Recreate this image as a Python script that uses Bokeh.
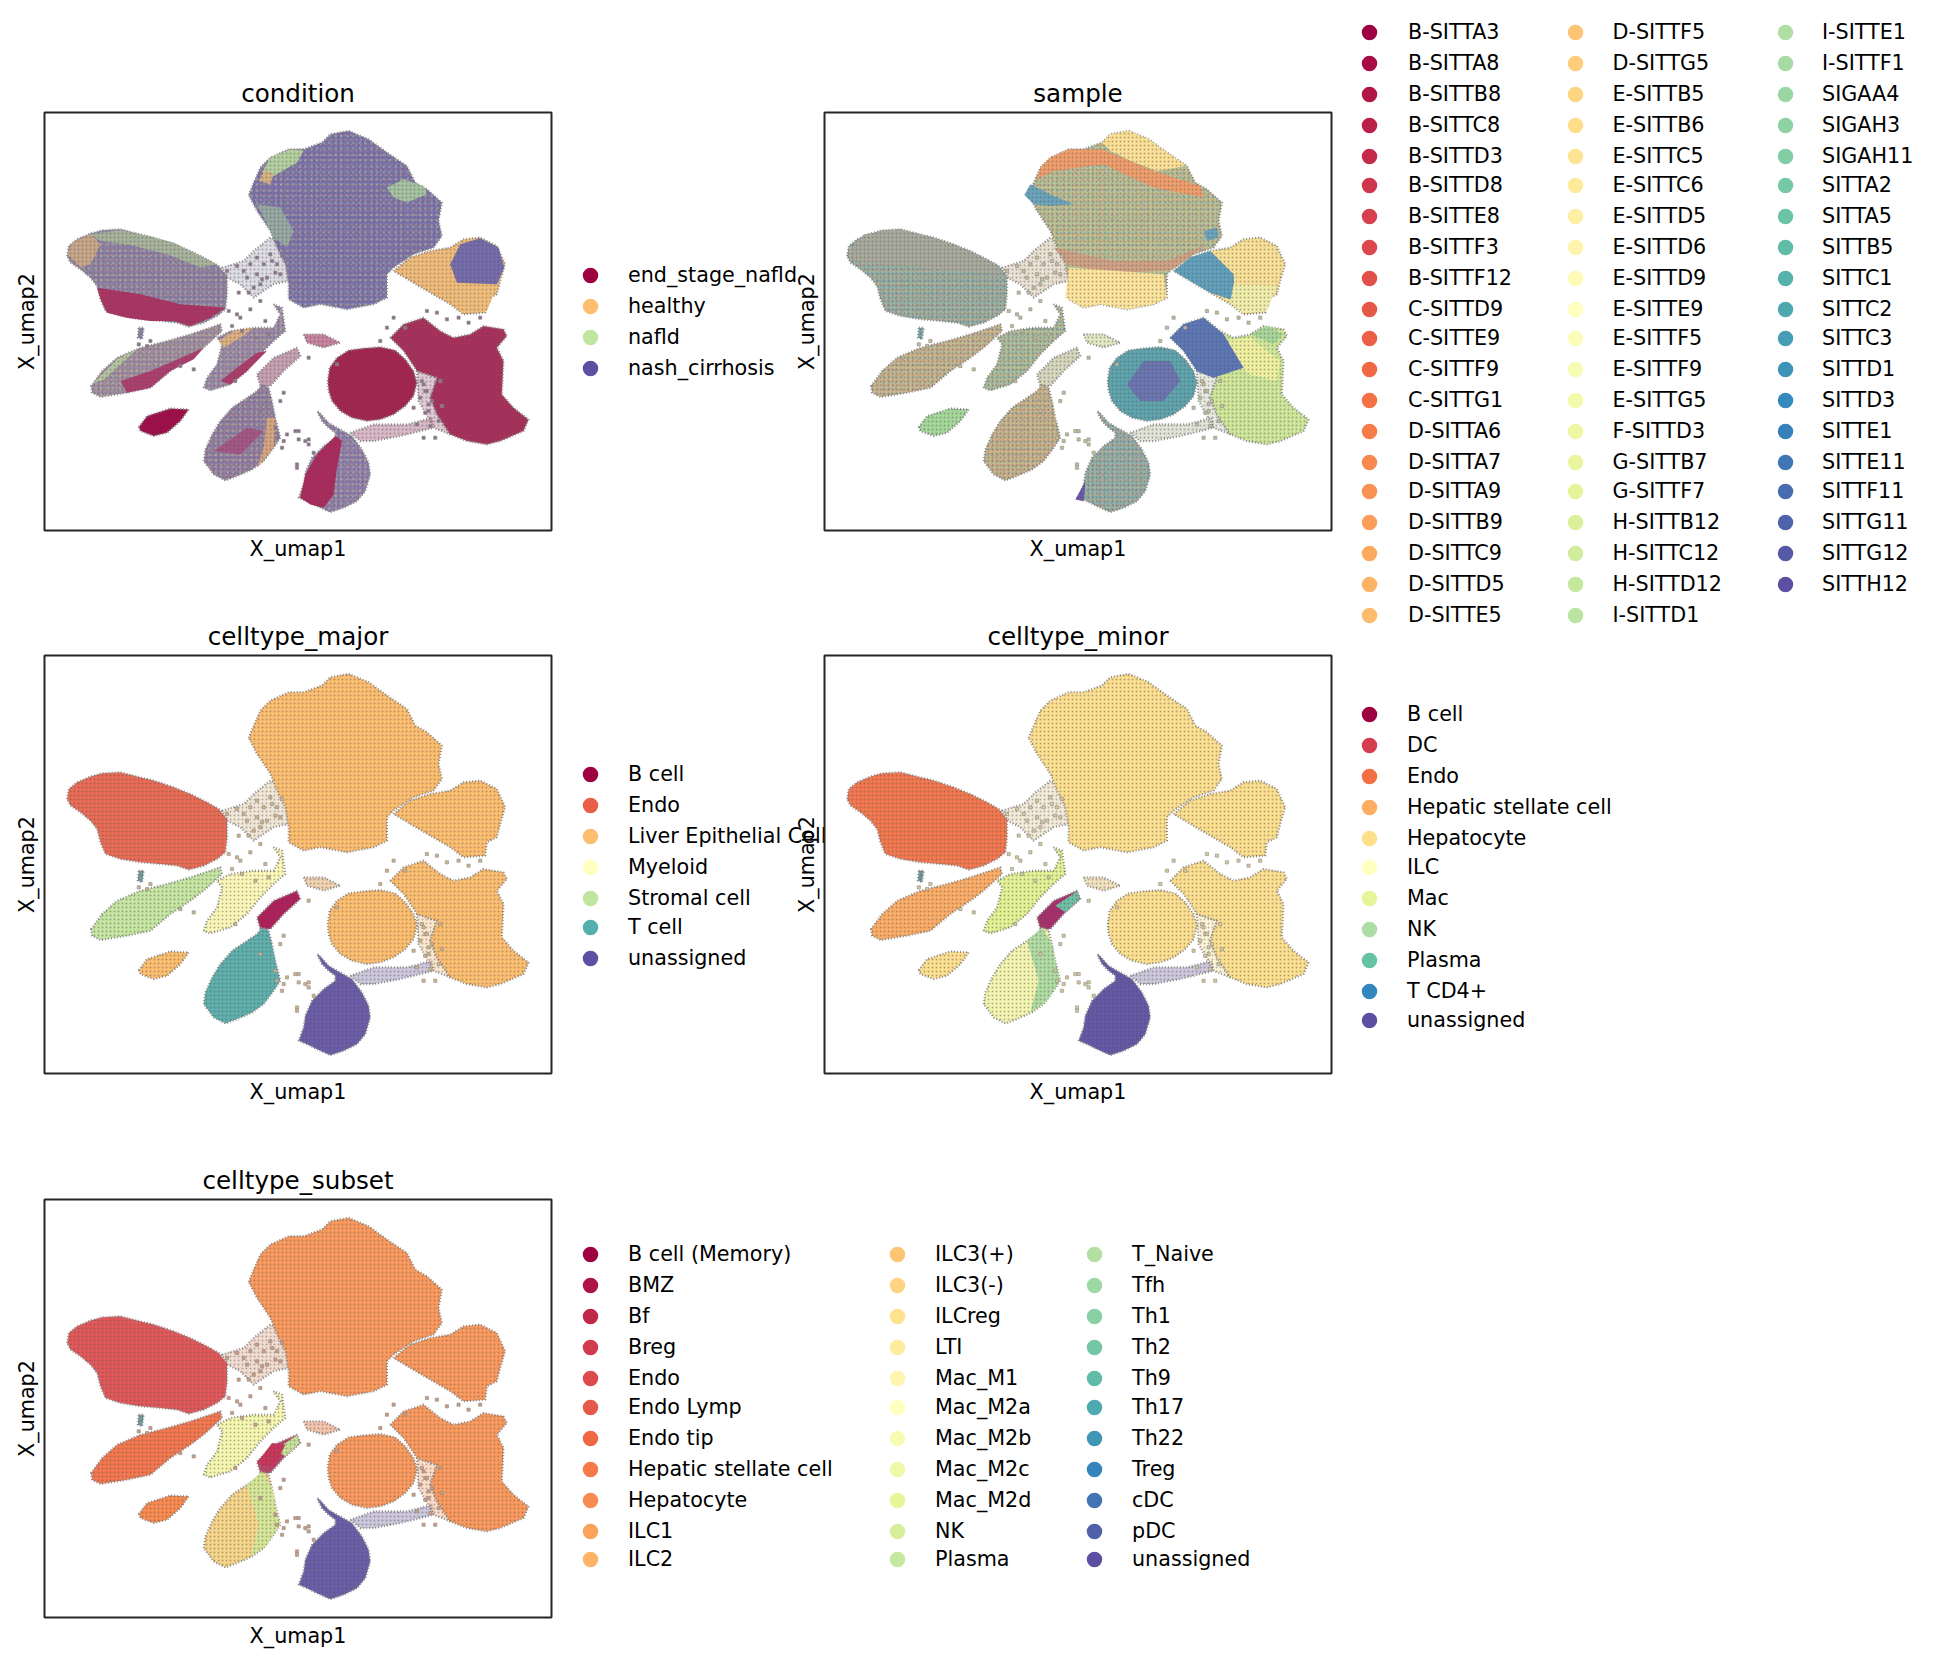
import numpy as np
from bokeh.embed import file_html
from bokeh.resources import INLINE
from bokeh.layouts import column, row
from bokeh.models import Legend, LegendItem, Range1d
from bokeh.palettes import Spectral11
from bokeh.plotting import figure

# ---- categories -------------------------------------------------------
condition_labels = ["end_stage_nafld", "healthy", "nafld", "nash_cirrhosis"]
sample_labels_a = ["B-SITTA3","B-SITTA8","B-SITTB8","B-SITTC8","B-SITTD3","B-SITTD8","B-SITTE8","B-SITTF3","B-SITTF12","C-SITTD9",
                   "C-SITTE9","C-SITTF9","C-SITTG1","D-SITTA6","D-SITTA7","D-SITTA9","D-SITTB9","D-SITTC9","D-SITTD5","D-SITTE5"]
sample_labels_b = ["D-SITTF5","D-SITTG5","E-SITTB5","E-SITTB6","E-SITTC5","E-SITTC6","E-SITTD5","E-SITTD6","E-SITTD9","E-SITTE9",
                   "E-SITTF5","E-SITTF9","E-SITTG5","F-SITTD3","G-SITTB7","G-SITTF7","H-SITTB12","H-SITTC12","H-SITTD12","I-SITTD1"]
sample_labels_c = ["I-SITTE1","I-SITTF1","SIGAA4","SIGAH3","SIGAH11","SITTA2","SITTA5","SITTB5","SITTC1","SITTC2",
                   "SITTC3","SITTD1","SITTD3","SITTE1","SITTE11","SITTF11","SITTG11","SITTG12","SITTH12"]
major_labels = ["B cell", "Endo", "Liver Epithelial Cell", "Myeloid", "Stromal cell", "T cell", "unassigned"]
minor_labels = ["B cell", "DC", "Endo", "Hepatic stellate cell", "Hepatocyte", "ILC", "Mac", "NK", "Plasma", "T CD4+", "unassigned"]
subset_labels_a = ["B cell (Memory)","BMZ","Bf","Breg","Endo","Endo Lymp","Endo tip","Hepatic stellate cell","Hepatocyte","ILC1","ILC2"]
subset_labels_b = ["ILC3(+)","ILC3(-)","ILCreg","LTI","Mac_M1","Mac_M2a","Mac_M2b","Mac_M2c","Mac_M2d","NK","Plasma"]
subset_labels_c = ["T_Naive","Tfh","Th1","Th2","Th9","Th17","Th22","Treg","cDC","pDC","unassigned"]

# ---- embedding outlines, in X_umap1 / X_umap2 units ----
hep_main = [(6.25,-2.62),(6.40,-2.25),(6.60,-1.80),(6.90,-1.50),(7.45,-1.25),(7.90,-1.25),(8.45,-1.05),(8.70,-0.80),(9.25,-0.70),
            (9.85,-0.95),(10.40,-1.35),(11.00,-1.75),(11.25,-2.25),(11.60,-2.45),(12.05,-2.85),(11.95,-3.40),(12.05,-3.85),(11.80,-4.20),
            (11.20,-4.40),(10.60,-4.80),(10.40,-5.00),(10.40,-5.70),(10.00,-5.90),(9.20,-6.05),(8.40,-5.90),(7.90,-6.00),(7.45,-5.75),
            (7.45,-5.30),(7.35,-4.70),(7.10,-4.20),(6.90,-3.70),(6.50,-3.10)]
hep_link = [(5.45,-4.80),(6.10,-4.60),(6.40,-4.30),(6.90,-3.90),(7.40,-4.20),(7.45,-5.20),(7.00,-5.30),(6.40,-5.70),(6.00,-5.30),(5.60,-5.10)]
lobe = [(10.60,-4.90),(11.10,-4.50),(11.70,-4.30),(12.30,-4.20),(12.70,-3.95),(13.20,-3.90),(13.70,-4.15),(13.95,-4.70),(13.80,-5.20),
        (13.70,-5.60),(13.40,-5.75),(13.35,-6.15),(12.70,-6.20),(12.30,-5.90),(11.70,-5.55),(11.10,-5.20)]
endo = [(0.80,-4.45),(0.85,-4.15),(1.10,-3.95),(1.50,-3.78),(1.85,-3.68),(2.40,-3.65),(2.90,-3.78),(3.40,-3.90),(4.00,-4.10),(4.50,-4.30),
        (5.00,-4.55),(5.35,-4.75),(5.60,-5.05),(5.60,-5.60),(5.55,-6.05),(5.30,-6.25),(4.90,-6.45),(4.45,-6.57),(4.10,-6.45),(3.60,-6.40),
        (3.00,-6.35),(2.40,-6.25),(1.95,-6.10),(1.80,-5.75),(1.70,-5.35),(1.50,-5.10),(1.20,-4.85),(0.90,-4.65)]
stromal = [(1.52,-8.35),(1.85,-7.90),(2.30,-7.50),(3.00,-7.20),(3.80,-7.00),(4.50,-6.80),(5.40,-6.50),(5.45,-6.70),(4.90,-7.20),(4.50,-7.50),
           (3.90,-7.90),(3.30,-8.40),(2.60,-8.55),(1.80,-8.68),(1.55,-8.55)]
myeloid = [(4.90,-8.40),(5.00,-8.10),(5.30,-7.70),(5.45,-7.10),(5.30,-6.90),(5.70,-6.70),(6.40,-6.60),(7.00,-6.60),(7.20,-6.20),(7.00,-5.90),
           (7.25,-6.00),(7.35,-6.70),(7.00,-7.00),(6.60,-7.40),(6.20,-7.90),(5.70,-8.30),(5.10,-8.48)]
bcell = [(6.50,-8.00),(7.00,-7.50),(7.70,-7.20),(7.80,-7.45),(7.30,-7.90),(6.90,-8.35),(6.60,-8.35)]
isle = [(7.90,-6.80),(8.50,-6.80),(9.00,-7.05),(8.50,-7.20),(8.00,-7.05)]
tcell = [(4.90,-10.60),(4.95,-10.25),(5.15,-9.80),(5.40,-9.40),(5.75,-9.00),(6.20,-8.70),(6.50,-8.50),(6.65,-8.30),(6.85,-8.40),(6.95,-8.80),
         (7.05,-9.30),(7.20,-9.90),(7.00,-10.20),(6.70,-10.60),(6.35,-10.85),(5.90,-11.05),(5.55,-11.18),(5.20,-11.00)]
islet = [(2.95,-9.58),(3.20,-9.25),(3.90,-9.02),(4.45,-9.05),(4.20,-9.40),(3.80,-9.75),(3.40,-9.85),(3.00,-9.70)]
unassigned = [(7.75,-11.70),(7.90,-11.30),(7.95,-10.95),(8.15,-10.50),(8.50,-10.15),(8.85,-9.90),(8.85,-9.75),(8.65,-9.60),(8.45,-9.40),(8.30,-9.10),
              (8.38,-9.15),(8.65,-9.45),(8.90,-9.60),(9.05,-9.68),(9.35,-9.85),(9.65,-10.25),(9.85,-10.65),(9.90,-11.00),(9.75,-11.50),(9.50,-11.80),(9.10,-12.00),
              (8.70,-12.13),(8.30,-11.95),(8.00,-11.80)]
trail = [(9.30,-9.75),(10.00,-9.50),(11.00,-9.50),(11.75,-9.30),(11.80,-9.60),(10.80,-9.85),(10.00,-10.00),(9.60,-10.00)]
hep_round = [(8.62,-8.20),(8.68,-7.80),(8.90,-7.50),(9.25,-7.28),(9.70,-7.22),(10.20,-7.18),(10.65,-7.28),(10.95,-7.55),(11.20,-7.90),(11.30,-8.25),
             (11.20,-8.65),(10.95,-8.95),(10.60,-9.20),(10.20,-9.35),(9.80,-9.40),(9.35,-9.30),(9.00,-9.10),(8.75,-8.80),(8.65,-8.50)]
hep_right = [(10.50,-6.90),(10.90,-6.50),(11.50,-6.30),(12.00,-6.70),(12.40,-6.90),(12.90,-6.80),(13.30,-6.55),(13.90,-6.65),(14.00,-6.85),(13.70,-7.20),
             (13.90,-7.60),(13.85,-8.60),(14.20,-9.00),(14.65,-9.35),(14.50,-9.70),(13.80,-10.00),(13.40,-10.10),(12.80,-10.00),(12.30,-9.80),(11.90,-9.20),
             (11.70,-8.70),(11.90,-8.10),(11.30,-7.90),(10.90,-7.30)]
right_gap = [(11.30,-7.90),(11.90,-8.10),(11.70,-8.70),(11.90,-9.20),(12.30,-9.80),(11.80,-9.60),(11.35,-8.80)]
speck = [(2.95,-6.60),(3.10,-6.60),(3.05,-6.95),(2.92,-6.90)]

# sub-regions used where a colouring splits a cluster
hep_green_tl = [(6.65,-1.95),(6.90,-1.50),(7.50,-1.25),(7.90,-1.30),(7.70,-1.65),(7.00,-2.05)]
hep_orange_tl = [(6.55,-2.20),(6.75,-1.85),(7.00,-2.00),(6.90,-2.30)]
hep_green_r = [(10.40,-2.40),(10.90,-2.15),(11.50,-2.35),(11.60,-2.60),(11.00,-2.85),(10.60,-2.70)]
hep_green_l = [(6.50,-2.90),(7.20,-3.00),(7.60,-3.70),(7.40,-4.20),(7.00,-3.90)]
lobe_cap = [(12.30,-4.70),(12.60,-4.10),(13.20,-3.92),(13.75,-4.20),(13.92,-4.80),(13.70,-5.30),(12.50,-5.25)]
lobe_foot = [(12.40,-5.30),(13.70,-5.35),(13.40,-6.10),(12.65,-6.15),(12.30,-5.85)]
lobe_left = [(10.60,-4.90),(11.10,-4.50),(11.70,-4.30),(12.40,-5.00),(12.45,-5.80),(11.70,-5.55),(11.10,-5.20)]
endo_top = [(1.50,-3.80),(2.40,-3.68),(3.20,-3.85),(4.00,-4.05),(4.80,-4.45),(5.30,-4.70),(4.80,-4.80),(3.80,-4.40),(2.60,-4.10),(1.80,-4.00)]
endo_left = [(0.80,-4.40),(0.95,-4.05),(1.50,-3.80),(1.80,-4.10),(1.50,-4.70),(1.20,-4.80)]
endo_low = [(1.70,-5.40),(3.00,-5.60),(4.20,-5.90),(5.55,-6.00),(5.10,-6.30),(4.50,-6.55),(4.00,-6.40),(3.30,-6.40),(2.60,-6.30),(2.00,-6.15),(1.80,-5.75)]
stromal_low = [(2.40,-8.20),(3.30,-7.90),(4.00,-7.60),(4.90,-7.20),(4.60,-7.55),(3.90,-7.90),(3.30,-8.40),(2.60,-8.55)]
stromal_top = [(1.60,-8.25),(2.30,-7.55),(2.90,-7.25),(2.40,-7.70),(1.90,-8.15)]
myeloid_top = [(5.35,-7.00),(5.80,-6.70),(6.40,-6.60),(6.00,-6.90),(5.50,-7.20)]
myeloid_low = [(5.40,-8.20),(5.90,-7.80),(6.50,-7.35),(6.80,-7.30),(6.20,-7.90),(5.70,-8.30)]
tcell_right = [(6.80,-9.30),(7.05,-9.30),(7.00,-10.20),(6.50,-10.80),(6.70,-10.20)]
tcell_right_broad = [(6.20,-8.70),(6.65,-8.30),(6.95,-8.80),(7.05,-9.30),(7.20,-9.90),(6.80,-10.50),(6.30,-10.85),(6.55,-9.90)]
tcell_mid = [(5.20,-10.30),(6.20,-9.60),(6.70,-9.70),(6.00,-10.40)]
unassigned_left = [(7.80,-11.70),(7.95,-11.00),(8.30,-10.40),(8.85,-9.85),(9.05,-10.00),(8.90,-10.80),(8.80,-11.60),(8.50,-12.00),(8.10,-11.90)]
cap_top = [(8.45,-1.05),(8.70,-0.80),(9.25,-0.70),(9.85,-0.95),(10.40,-1.35),(11.00,-1.75),(10.10,-1.90),(9.30,-1.60),(8.70,-1.30)]
band_orange = [(6.60,-1.80),(6.90,-1.50),(7.45,-1.25),(8.45,-1.25),(10.00,-1.90),(11.40,-2.35),(11.50,-2.70),(10.00,-2.40),(8.50,-1.70),(7.00,-1.90),(6.50,-2.15)]
blue_left = [(6.12,-2.62),(6.30,-2.30),(7.00,-2.65),(7.60,-2.90),(6.90,-2.95),(6.40,-2.90)]
blue_right = [(11.50,-3.70),(11.90,-3.60),(11.95,-3.90),(11.60,-4.00)]
hep_foot = [(7.35,-5.70),(7.45,-4.80),(10.30,-5.00),(10.40,-5.70),(10.00,-5.90),(9.20,-6.05),(8.40,-5.90),(7.90,-6.00)]
hep_band_red = [(7.00,-4.20),(8.80,-4.60),(10.40,-4.60),(11.60,-4.10),(10.60,-4.85),(8.80,-5.00),(7.40,-4.70)]
round_core = [(9.20,-8.30),(9.70,-7.60),(10.50,-7.60),(10.80,-8.20),(10.30,-8.80),(9.60,-8.80)]
right_blue = [(10.50,-6.90),(10.90,-6.50),(11.50,-6.30),(12.10,-6.80),(12.70,-7.80),(11.80,-8.10),(11.30,-7.90),(10.90,-7.30)]
right_yellow = [(12.10,-7.00),(12.90,-6.90),(13.80,-7.60),(13.70,-8.20),(12.90,-8.00),(12.50,-7.70)]
right_tip = [(12.90,-6.80),(13.40,-6.55),(13.90,-6.80),(13.60,-7.10)]
endo_core_top = [(0.80,-4.40),(1.30,-3.80),(2.40,-3.65),(3.20,-3.85),(4.20,-4.20),(5.30,-4.70),(5.40,-5.00),(4.00,-4.90),(2.00,-4.70),(1.00,-4.60)]
b_plasma = [(7.05,-7.65),(7.70,-7.22),(7.78,-7.45),(7.35,-7.85)]
b_crimson = [(6.50,-8.05),(6.95,-7.45),(7.35,-7.50),(7.00,-8.20)]
unassigned_tip = [(7.65,-11.75),(7.95,-11.20),(7.90,-11.80)]

# loose cells that lie outside or on the sparse outlines
loose_x = [5.90,6.30,6.60,6.75,5.75,6.05,6.45,6.85,7.20,5.65,8.05,8.90,7.40,7.75,7.95,7.05,7.30,10.60,10.95,11.60,
           11.90,12.20,12.55,12.85,13.20,11.55,11.20,10.20,10.40,11.50,11.65,11.30,11.85,11.50,11.65,12.00,7.30,7.65,7.75,8.05,
           8.20,7.70,8.05,7.70,7.10,7.25,6.60,3.30,3.20,2.95,4.20,4.60,5.85,6.00,
           5.60,5.90,6.10,6.30,6.50,6.20,6.50,6.70,6.60,6.90,6.80,7.10,7.20,6.40,5.95,6.25,6.95,7.25,7.05,6.65,
           11.45,11.60,11.75,11.55,11.95,12.05,11.40,11.70]
loose_y = [-6.20,-6.05,-5.80,-6.40,-6.55,-6.70,-6.90,-6.80,-8.80,-6.10,-7.50,-7.70,-9.80,-9.70,-10.00,-9.60,-10.00,-6.30,-6.60,-6.10,
           -6.15,-6.35,-6.30,-6.45,-6.30,-8.50,-9.00,-7.00,-6.60,-8.30,-8.90,-9.50,-9.90,-9.90,-9.10,-8.20,-8.55,-9.70,-9.95,-9.95,
           -10.35,-10.70,-10.10,-10.80,-9.90,-10.20,-9.10,-7.00,-7.15,-7.10,-7.75,-7.85,-8.20,-6.30,
           -4.90,-4.75,-4.90,-4.70,-4.50,-5.10,-5.00,-4.70,-5.30,-4.40,-5.10,-4.70,-5.00,-5.40,-5.55,-5.55,-4.60,-4.45,-4.95,-5.15,
           -8.20,-8.50,-8.80,-9.15,-9.40,-8.95,-8.70,-9.55]

X_RANGE = (0.12, 15.34)
Y_RANGE = (-12.68, -0.15)
FW, FH = 507, 418
EDGE = "#8d8d8d"
SPECK = "#4c4c4c"
FONT = "DejaVu Sans"
NO_POINT = float("nan")
SPECTRAL = [tuple(int(c[i:i + 2], 16) for i in (1, 3, 5)) for c in reversed(Spectral11)]
CLUSTERS = [hep_main, hep_link, lobe, endo, stromal, myeloid, bcell, isle, tcell, islet, unassigned, trail, hep_round, hep_right, right_gap, speck]


def spectral(n):
    stops = np.linspace(0, 1, 11)
    out = []
    for t in np.linspace(0, 1, n):
        rgb = [int(round(np.interp(t, stops, [s[k] for s in SPECTRAL]))) for k in range(3)]
        out.append("#%02x%02x%02x" % tuple(rgb))
    return out


def make(title, height, top, left=36, margin=(0, 0, 0, 0)):
    width = left + FW + 8
    p = figure(width=width, height=height, output_backend="svg", toolbar_location=None, frame_align=False,
               x_range=Range1d(*X_RANGE), y_range=Range1d(*Y_RANGE), margin=margin,
               min_border_left=left, min_border_top=top, min_border_right=8,
               min_border_bottom=height - top - FH, border_fill_color=None,
               background_fill_color="white", outline_line_color="#262626", outline_line_width=2)
    p.grid.visible = False
    p.title.text = title
    p.title.align = "center"
    p.title.text_font = FONT
    p.title.text_font_style = "normal"
    p.title.text_font_size = "24.6px"
    p.title.text_color = "black"
    p.title.standoff = 10
    p.xaxis.axis_label = "X_umap1"
    p.yaxis.axis_label = "X_umap2"
    for ax in (p.xaxis[0], p.yaxis[0]):
        ax.ticker = []
        ax.axis_line_color = None
        ax.major_tick_line_color = None
        ax.minor_tick_line_color = None
        ax.major_label_text_font_size = "0px"
        ax.axis_label_text_font = FONT
        ax.axis_label_text_font_style = "normal"
        ax.axis_label_text_font_size = "20.7px"
        ax.axis_label_text_color = "black"
        ax.axis_label_standoff = 6
    return p


def legend_panel(width, height, margin):
    q = figure(width=width, height=height, output_backend="svg", toolbar_location=None, frame_align=False,
               x_range=Range1d(0, 1), y_range=Range1d(0, 1), margin=margin,
               x_axis_location=None, y_axis_location=None, min_border=0,
               border_fill_color=None, background_fill_color=None, outline_line_color=None)
    q.grid.visible = False
    return q


def paint(p, pts, color, alpha=1.0, mix=()):
    xs = [q[0] for q in pts]
    ys = [q[1] for q in pts]
    edge = any(pts is c for c in CLUSTERS)
    p.patch(xs, ys, fill_color=color, fill_alpha=alpha, line_color=EDGE if edge else None,
            line_width=2.2, line_dash="1 2")
    for i, tint in enumerate(mix):
        p.patch(xs, ys, fill_alpha=0, line_color=None, hatch_pattern="dot", hatch_scale=5 + i,
                hatch_weight=1, hatch_color=tint, hatch_alpha=0.28)
    p.patch(xs, ys, fill_alpha=0, line_color=None, hatch_pattern="dot", hatch_scale=4,
            hatch_weight=1, hatch_color=SPECK, hatch_alpha=0.4)


def fill_panel(p, layers, mixed=(), mix=()):
    for pts, col, a in layers:
        paint(p, pts, col, a, mix if any(pts is m for m in mixed) else ())


def legend_block(q, labels, colors, panel_left, panel_bottom, marker_x, text_x, first_y, pitch=30.6, chunk=5):
    """One column of a legend; long columns are stacked so the row pitch stays fractional."""
    gw, gh = 30, 30
    for s in range(0, len(labels), chunk):
        part_l, part_c = labels[s:s + chunk], colors[s:s + chunk]
        items = []
        for lab, col in zip(part_l, part_c):
            r = q.scatter(x=[NO_POINT], y=[NO_POINT], marker="circle", size=12, fill_color=col, line_color=col, line_width=3.5)
            items.append(LegendItem(label=lab, renderers=[r]))
        k = len(items)
        yc = first_y + s * pitch
        bottom = yc - gh / 2 + k * gh + (k - 1)
        leg = Legend(items=items, location=(marker_x - gw / 2 - panel_left, panel_bottom - bottom),
                     orientation="vertical", margin=0, padding=0, spacing=1, glyph_width=gw, glyph_height=gh,
                     label_height=gh, label_standoff=int(text_x - marker_x - gw / 2),
                     label_text_font=FONT, label_text_font_size="20.7px", label_text_color="black",
                     border_line_color=None, background_fill_alpha=0, background_fill_color=None)
        q.add_layout(leg)


def draw_loose(p, color):
    p.scatter(loose_x, loose_y, marker="square", size=3.2, fill_color=color, line_color=EDGE, line_width=0.6)


# ---- condition --------------------------------------------------------
c1 = spectral(4)
p1 = make("condition", 622, 105, margin=(7, 0, 0, 8))
fill_panel(p1, [(hep_link, "#8f8c9f", .3), (hep_main, "#7a72ac", 1), (hep_green_tl, "#b3cf9f", 1), (hep_orange_tl, "#d6b183", 1),
                (hep_green_r, "#a4c29f", 1), (hep_green_l, "#97a8a3", 1), (lobe, "#efbb7a", 1), (lobe_cap, "#756cab", 1),
                (lobe_foot, "#f0bc7a", 1), (endo, "#8a7ea6", 1), (endo_top, "#a6b29b", 1), (endo_left, "#c7a588", 1),
                (endo_low, "#ab3463", 1), (speck, "#8a82a8", 1), (stromal, "#9b8aa3", 1), (stromal_top, "#b3c59f", 1),
                (stromal_low, "#ad3f6e", 1), (myeloid, "#9686aa", 1), (myeloid_top, "#dcae80", 1), (myeloid_low, "#ab3d6a", 1),
                (bcell, "#a0607e", .6), (isle, "#a6305f", .6), (tcell, "#8d7ba4", 1), (tcell_mid, "#a35684", 1),
                (tcell_right, "#d6a57e", 1), (islet, "#a00c48", 1), (unassigned, "#8b7cad", 1), (unassigned_left, "#ab2a5c", 1),
                (trail, "#a04d70", .4), (right_gap, "#a04d70", .3), (hep_round, "#a4244e", 1), (hep_right, "#a8305a", 1)],
           mixed=[hep_main, endo, stromal, myeloid, tcell, unassigned], mix=("#fdae61", "#c8e6a0"))
draw_loose(p1, "#8c6f8c")
l1 = legend_panel(268, 622, (7, 0, 0, 0))          # 559 .. 827
legend_block(l1, condition_labels, c1, 559, 630, 590, 628, 276, pitch=30.7)

# ---- sample -----------------------------------------------------------
c2 = spectral(59)
p2 = make("sample", 622, 105, left=34, margin=(7, 0, 0, -37))
fill_panel(p2, [(hep_link, "#c6a584", .35), (hep_main, "#b8c297", 1), (hep_band_red, "#cfa286", 1), (cap_top, "#fadf95", 1),
                (band_orange, "#ee9d6c", 1), (blue_left, "#6ba3ba", 1), (blue_right, "#6ba3ba", 1), (hep_foot, "#fce39b", 1),
                (lobe, "#f9e097", 1), (lobe_left, "#62a0bb", 1), (lobe_foot, "#f0eda9", 1), (endo, "#97b2a4", 1),
                (endo_core_top, "#a8a99c", 1), (speck, "#7fa7a8", 1), (stromal, "#c2b892", 1), (myeloid, "#a8c0a0", 1),
                (bcell, "#b9bb90", .6), (isle, "#cfdb9d", .6), (tcell, "#c3b78f", 1), (islet, "#a4d89b", 1),
                (unassigned, "#93b1a9", 1), (unassigned_tip, "#6a58a8", 1), (trail, "#b4b99a", .4), (right_gap, "#b4b99a", .3),
                (hep_round, "#5fa3ad", 1), (round_core, "#6b75b0", 1), (hep_right, "#cfe79a", 1),
                (right_yellow, "#eef0a0", 1), (right_tip, "#a8d69a", 1), (right_blue, "#5d77b5", 1)],
           mixed=[hep_main, endo, stromal, myeloid, tcell, unassigned], mix=("#e4585a", "#3f8fc0", "#fdae61"))
draw_loose(p2, "#c4bd98")
l2 = legend_panel(590, 622, (7, 0, 0, 0))          # 1339 .. 1929
legend_block(l2, sample_labels_a, c2[:20], 1339, 630, 1369, 1408, 33)
legend_block(l2, sample_labels_b, c2[20:40], 1339, 630, 1574.5, 1613, 33)
legend_block(l2, sample_labels_c, c2[40:], 1339, 630, 1785, 1822, 33)

# ---- celltype_major ---------------------------------------------------
c3 = spectral(7)
p3 = make("celltype_major", 570, 46, margin=(-20, 0, 0, 8))
HEP = "#fdbe70"
fill_panel(p3, [(hep_link, "#d9b98a", .35), (hep_main, HEP, 1), (lobe, HEP, 1), (endo, "#ea6b55", 1), (speck, "#6f9aa0", 1),
                (stromal, "#c6e6a2", 1), (myeloid, "#fcf8b9", 1), (bcell, "#b01f5a", 1), (isle, "#e8b67e", .6),
                (tcell, "#5fb0ad", 1), (islet, HEP, 1), (unassigned, "#6a5ca8", 1), (trail, "#7f74a4", .4), (right_gap, HEP, .35),
                (hep_round, HEP, 1), (hep_right, HEP, 1)])
draw_loose(p3, "#d0b288")
l3 = legend_panel(268, 570, (-20, 0, 0, 0))
legend_block(l3, major_labels, c3, 559, 1180, 590, 628, 775, pitch=30.5)

# ---- celltype_minor ---------------------------------------------------
c4 = spectral(11)
p4 = make("celltype_minor", 570, 46, left=34, margin=(-20, 0, 0, -37))
HEP4 = "#fddf90"
fill_panel(p4, [(hep_link, "#dcc795", .35), (hep_main, HEP4, 1), (lobe, HEP4, 1), (endo, "#f3784f", 1), (speck, "#6f9aa0", 1),
                (stromal, "#fbad68", 1), (myeloid, "#e2f294", 1), (bcell, "#a8306a", 1), (b_plasma, "#6fc0a5", 1),
                (isle, "#e9cd92", .6), (tcell, "#f4f5b0", 1), (tcell_right_broad, "#b0dba2", 1), (islet, HEP4, 1),
                (unassigned, "#6457a6", 1), (trail, "#7f74a4", .4), (right_gap, HEP4, .35), (hep_round, HEP4, 1), (hep_right, HEP4, 1)])
draw_loose(p4, "#d8c898")
l4 = legend_panel(590, 570, (-20, 0, 0, 0))
legend_block(l4, minor_labels, c4, 1339, 1180, 1369, 1407, 715)

# ---- celltype_subset --------------------------------------------------
c5 = spectral(33)
p5 = make("celltype_subset", 500, 45, margin=(-25, 0, 0, 8))
HEP5 = "#fb9a5e"
fill_panel(p5, [(hep_link, "#d99a78", .35), (hep_main, HEP5, 1), (lobe, HEP5, 1), (endo, "#e2585a", 1), (speck, "#6f9aa0", 1),
                (stromal, "#f4784f", 1), (myeloid, "#f6f7b0", 1), (bcell, "#b9466a", 1), (b_plasma, "#c5e29a", 1),
                (b_crimson, "#c8365a", 1), (isle, "#ef9d76", .6), (tcell, "#f7d58a", 1), (tcell_right_broad, "#d5e698", 1),
                (islet, "#f98a50", 1), (unassigned, "#6a5ea8", 1), (trail, "#7f74a4", .4), (right_gap, HEP5, .35),
                (hep_round, HEP5, 1), (hep_right, HEP5, 1)])
draw_loose(p5, "#d09a80")
l5 = legend_panel(740, 500, (-25, 0, 0, 0))
legend_block(l5, subset_labels_a, c5[:11], 559, 1655, 590, 628, 1255, pitch=30.5)
legend_block(l5, subset_labels_b, c5[11:22], 559, 1655, 897, 935, 1255, pitch=30.5)
legend_block(l5, subset_labels_c, c5[22:], 559, 1655, 1094, 1132, 1255, pitch=30.5)

page = column(row(p1, l1, p2, l2, spacing=0), row(p3, l3, p4, l4, spacing=0), row(p5, l5, spacing=0), spacing=0)
open("out.html", "w").write(file_html(page, INLINE))
